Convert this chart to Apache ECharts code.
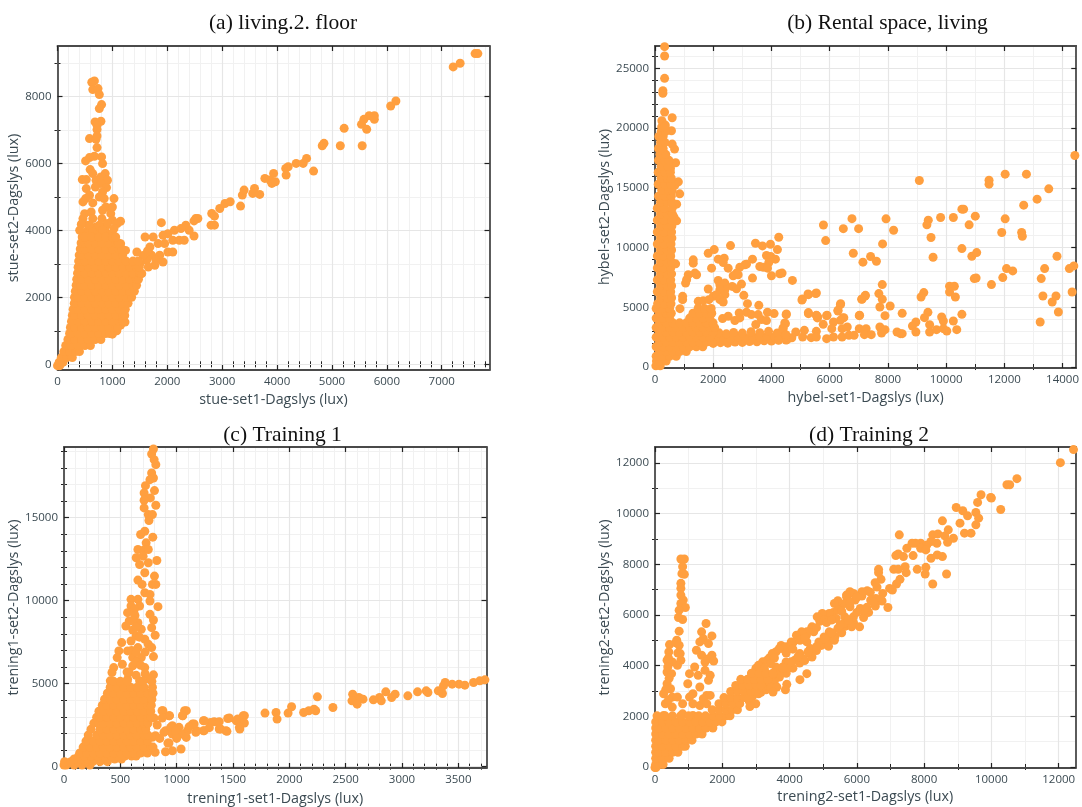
<!DOCTYPE html>
<html><head><meta charset="utf-8">
<script src="https://cdn.jsdelivr.net/npm/echarts@6/dist/echarts.min.js"></script>
<style>html,body{margin:0;background:#fff}#c{width:1082px;height:807px}</style></head>
<body><div id="c"></div>
<script>
// ---------- Panel (a) living.2. floor ----------
const livingTitle = "(a) living.2. floor";
const livingXName = "stue-set1-Dagslys (lux)";
const livingYName = "stue-set2-Dagslys (lux)";
const livingXMajor = [0,1000,2000,3000,4000,5000,6000,7000];
const livingXMinor = [200,400,600,800,1200,1400,1600,1800,2200,2400,2600,2800,3200,3400,3600,3800,4200,4400,4600,4800,5200,5400,5600,5800,6200,6400,6600,6800,7200,7400,7600,7800];
const livingYMajor = [0,2000,4000,6000,8000];
const livingYMinor = [1000,3000,5000,7000,9000];
// dense mass, read row by row: [y, x, x, ...]
const livingRows = [
[-40,0,40],[60,30,100],[200,70,170,270],[380,115,220,330,400],[560,150,250,375,500,600],
[740,190,312,437,562,687,790],[920,220,250,375,500,625,750,875,950],[1100,235,312,437,562,687,812,937,1062,1095],
[1280,255,375,500,625,750,875,1000,1125,1200],[1460,270,312,437,562,687,812,937,1062,1187,1225],
[1640,285,375,500,625,750,875,1000,1125,1235],[1820,305,437,562,687,812,937,1062,1187,1285],
[2000,310,375,500,625,750,875,1000,1125,1250,1350],[2180,325,437,562,687,812,937,1062,1187,1312,1400],
[2360,340,420,500,625,750,875,1000,1125,1250,1375,1440],[2540,350,437,562,687,812,937,1062,1187,1312,1437,1475],
[2720,365,430,500,625,750,875,1000,1125,1250,1375,1500,1525],[2900,375,437,562,687,812,937,1062,1187,1312,1437,1490],
[3080,385,445,500,625,750,875,1000,1125,1250,1375,1470],[3260,395,437,562,687,812,937,1062,1187],
[3440,415,500,625,750,875,1000,1125,1170],[3620,430,500,562,687,812,937,1062,1110],[3800,450,500,625,750,875,1000,1060]
];
const livingPoints = [
[520,3950],[700,3950],[880,3950],[1000,3900],[560,4150],[700,4100],[880,4120],[1150,3600],[1240,3400],[1150,1170],[1230,1260],[1080,1000],[1000,900],
[672,8458],[625,8418],[643,8199],[738,8229],[762,8050],[803,7751],[762,7632],[684,7234],[791,7254],[720,7134],[720,7005],[583,6736],[702,6716],[720,6816],[720,6468],[803,6189],[672,6209],[583,6169],[512,6070],[821,5990],[595,5811],[643,5691],[869,5691],[452,5512],[524,5512],[791,5592],[910,5492],[702,5492],[791,5393],[893,5274],[690,5293],[524,5244],[821,5144],[583,5045],[512,4945],[464,4846],[1029,4945],[762,4995],[851,4945],[643,4816],[881,4696],[1000,4696],[494,4497],[613,4547],[821,4597],[970,4497],[464,4348],[643,4348],[809,4348],[1000,4298],[434,4179],[1148,4269],[1089,4199],[583,4149],[762,4149],[910,4199],[405,4000],[643,3950],[821,4000],[1029,4050],
[1446,3353],[1624,3104],[1773,2955],[1922,3055],[2011,3353],[2100,3353],[1684,3502],[1595,3801],[1743,3801],[1833,3602],[1952,3602],[2011,3900],[2130,4000],[1922,3850],[2100,3701],[2219,3701],[2309,3701],[2487,3831],[2338,4149],[2398,4000],[2249,4050],[2517,4348],[2487,4279],[1892,4228],[1654,2905],[1535,2706],[1714,3254],[1862,3254],[1560,3250],[1500,3000],[1640,3380],[1790,3120],
[2557,4353],[2810,4502],[2860,4422],[2797,4153],[2860,4153],[2956,4651],[3051,4801],[3146,4851],[3335,4721],[3367,5050],[3399,5199],[3557,5100],[3589,5249],[3684,5070],[3778,5548],[3873,5498],[3937,5697],[3905,5398],[3968,5448],[4158,5847],[4203,5896],[4165,5647],[4348,5996],[4475,5996],[4538,6145],[4665,5767],[4823,6524],[4854,6594],[5152,6524],[5222,7042],[5551,6524],[5538,7161],[5582,7311],[5633,7012],[5677,7420],[5772,7420],[5772,7311],[6070,7709],[6165,7859],[7209,8875],[7335,8984],[7608,9273],[7658,9273]
];

// ---------- Panel (b) Rental space, living ----------
const rentalTitle = "(b) Rental space, living";
const rentalXName = "hybel-set1-Dagslys (lux)";
const rentalYName = "hybel-set2-Dagslys (lux)";
const rentalXMajor = [0,2000,4000,6000,8000,10000,12000,14000];
const rentalXMinor = [1000,3000,5000,7000,9000,11000,13000];
const rentalYMajor = [0,5000,10000,15000,20000,25000];
const rentalYMinor = [1000,2000,3000,4000,6000,7000,8000,9000,11000,12000,13000,14000,16000,17000,18000,19000,21000,22000,23000,24000,26000];
const rentalRows = [
[100,30,180],[500,50,155,385],[900,40,270,500,730],[1300,155,385,615,845,1075],
[1700,40,270,500,730,960,1190,1420,1640],[2100,155,385,615,845,1075,1305,1535,1765,1950],
[2500,40,270,500,730,960,1190,1420,1650,1880],[2900,155,385,615,845,1075,1305,1535,1765,1995],
[3300,40,270,500,730,960,1190,1420,1650,1880,2050],[3700,155,385,615,845,1075,1305,1535,1765,1995],
[4100,40,270,500,1190,1420,1650,1880],[4500,155,385,560,1305,1535,1765,1950],[4900,40,270,500,1480,1700,1930],
[5300,90,320,550],[5800,190,420,570],[6300,80,310,540],[6800,190,420,570],[7300,80,310,540],[7800,190,420,570],[8300,80,310,540],[8800,190,420,570],[9300,80,310,540],[9800,190,420,570],[10300,80,310,550],[10800,190,420,580],[11300,80,310,570],[11800,190,420,580],[12300,80,310,570],[12800,190,420,600],[13300,80,310,590],[13800,190,420,580],
[14300,120,350,560],[14800,230,470,590],[15300,110,340,540],[15800,210,420,560],[16300,110,340,530],[16800,210,440],[17300,120,320,480],[17800,170,370],[18300,120,280],[18800,190,340],[19300,130,280],[19700,210,360],[20100,230,340]
];
const rentalPoints = [
[2000,1980],[2250,2040],[2500,2000],[2750,2090],[3000,2060],[3250,2130],[3500,2110],[3750,2200],[4000,2180],[4250,2290],[4500,2260],[2100,2430],[2350,2500],[2600,2410],[2850,2520],[3100,2460],[3350,2560],[3600,2480],[3850,2590],[4100,2520],[4350,2640],[2200,2860],[2450,2780],[2700,2900],[3000,2840],[3300,2950],[3600,2880],[3900,2990],[4200,2850],
[330,26034],[330,26816],[330,24162],[271,23128],[271,22905],[330,21341],[236,20615],[590,20866],[354,20251],[566,19777],[590,18659],[672,18240],[708,17095],[531,16620],[590,17039],[802,15503],[684,15223],[849,14497],[743,13631],[743,12235],[649,12570],
[709,8639],[1314,8972],[1314,8694],[1143,7722],[1051,7028],[1086,7306],[1371,7861],[1429,7722],[949,5917],[949,5639],[857,4889],
[1829,9528],[2034,9833],[2594,10167],[3451,10361],[3691,10139],[3966,10278],[4251,10861],[4206,9833],[2171,9028],[2377,9111],[2343,8750],[1943,8278],[2514,8278],[3349,9028],[3829,9333],[3977,9250],[4137,9028],[3909,8750],[3600,8417],[3714,8361],[3863,8278],[3086,8556],[2914,8361],[3143,8611],[2800,7861],[2686,7639],[2857,7722],[3349,7444],[4000,7639],[4286,7806],[4366,7861],[4720,7250],
[1829,6528],[2171,7250],[2229,6889],[2400,7028],[2651,6750],[2971,6944],[2800,6556],[2400,6472],[2229,6472],[2000,5917],[2114,6056],[2400,6056],[2229,5639],[2343,5444],[3051,6000],[1486,5500],[1657,5556],[1851,5639],[3177,5306],[3566,5167],
[2320,4056],[2514,4250],[2743,3889],[2891,4528],[2914,4111],[3143,4583],[3314,4389],[3543,4389],[3657,3972],[3829,3889],[3863,4583],[4091,4472],[4514,4444],[4457,3694],[4400,3278],[3463,3556],
[5063,5694],[5257,6111],[5543,6194],[5863,10583],[5786,11889],[6469,11583],[6766,12417],[6994,11583],[6811,9528],[7143,8778],[7406,9250],[5269,4556],[5554,4306],[5577,4111],[5909,4333],[6377,5306],[6286,4750],[7029,4333],[7114,5694],[7229,6000],[6457,4111],
[9080,15615],[11474,15642],[11474,15307],[12028,16145],[12759,16145],[13526,14916],[13125,14050],[12665,13547],[10542,13212],[10601,13212],[9811,12514],[10248,12514],[9387,12291],[9340,11899],[11002,12626],[10790,11899],[12028,12402],[7936,12402],[8196,11453],[7818,10307],[9481,10838],[9552,9190],[7606,8855],[11910,11257],[12594,11257],[12618,10950],[10542,9916],[10884,9274],[11050,9581],[13809,9274],[12075,8240],[12288,8045],[11946,7486],[13384,8240],[13267,7402],[14233,8240],[14387,8464],[14328,6285],[14422,17709],[10967,7402],[11030,7450],[11557,6899],[10118,6760],[10283,6760],[10118,6285],[10318,5866],[10542,4413],[10248,3855],[10366,3128],[9233,6229],[9139,5866],[9375,4581],[9257,4134],[8962,3771],[8844,3436],[8962,2933],[9434,3547],[9434,2933],[9847,4190],[9906,3855],[9670,3128],[9906,3212],[10024,3017],[7807,6899],[7689,6145],[7807,5670],[7724,5028],[8078,5112],[7901,4302],[8491,4497],[7217,5950],[7099,5670],[7016,4302],[6368,5223],[6285,4693],[6486,4134],[6368,3911],[13325,5950],[13774,5950],[13644,5447],[13856,4609],[13231,3771],
[4835,2933],[5130,3073],[5071,2514],[5366,2458],[5542,2989],[5542,2514],[5896,2374],[6132,2514],[5778,3575],[6132,3771],[6073,3212],[6427,3212],[6427,2514],[6604,3352],[6663,2654],[6840,2654],[7016,3212],[7252,3212],[7193,2709],[7429,2709],[7724,3352],[7901,3128],[7783,2849],[8314,2933],[8432,2793],[8491,2793],[5590,4190],[5542,4330],[5896,4302],[5271,4469],[5047,5615],[5271,6061],[5519,6145],[4505,4385],[4481,3631],[4399,3212],[4540,2290],[4245,2235],[4700,2450],[4500,2700]
];

// ---------- Panel (c) Training 1 ----------
const training1Title = "(c) Training 1";
const training1XName = "trening1-set1-Dagslys (lux)";
const training1YName = "trening1-set2-Dagslys (lux)";
const training1XMajor = [0,500,1000,1500,2000,2500,3000,3500];
const training1XMinor = [100,200,300,400,600,700,800,900,1100,1200,1300,1400,1600,1700,1800,1900,2100,2200,2300,2400,2600,2700,2800,2900,3100,3200,3300,3400,3600,3700];
const training1YMajor = [0,5000,10000,15000];
const training1YMinor = [1000,2000,3000,4000,6000,7000,8000,9000,11000,12000,13000,14000,16000,17000,18000,19000];
const training1Rows = [
[100,0,20,90,160,230],[300,5,60,125,190,255,320,385],[460,90,150,210,270,330,390,450,510],[640,130,180,240,300,360,420,480,540,600,640],
[820,140,200,260,320,380,440,500,560,620,680,740],[1180,170,230,290,350,410,470,530,590,650,710,770,790],
[1540,195,260,320,380,440,500,560,620,680,740],[1900,215,290,350,410,470,530,590,650,710,745],
[2260,240,320,380,440,500,560,620,680,725],[2620,265,310,350,410,470,530,590,650,710,745],
[2980,290,320,380,440,500,560,620,680,740,770],[3340,310,350,410,470,530,590,650,710,770],
[3700,340,380,440,500,560,620,680,740,775],[4060,360,410,470,530,590,650,710,780],
[4420,385,440,500,560,620,680,740,790],[4780,410,470,530,590,650,710,785],[5140,440,500,560,700,780]
];
const training1Points = [
[778,18826],[794,19127],[800,18486],[815,18185],[778,17685],[794,17385],[763,17285],[723,16923],[803,16623],[711,16483],[766,16183],[711,16043],[815,15742],[711,15582],[748,15181],[785,15181],[754,14821],[717,14180],[680,13980],[788,13820],[729,13479],[656,13079],[717,13079],[748,13079],[641,12578],[702,12678],[824,12417],[671,12177],[748,12277],[717,11676],[803,11476],[656,11236],[693,10975],[785,10975],[815,10975],[717,10475],[763,10375],[595,10075],[656,10075],[763,9975],[595,9674],[834,9634],[671,9674],[564,9273],[625,9473],[763,9173],[579,8772],[549,8472],[794,8832],[778,8372],[656,8672],[610,8232],[686,8272],[809,7911],[641,7871],[512,7471],[595,7571],[717,7671],[748,7371],[487,6970],[564,6970],[656,7170],[778,7170],[794,6629],[472,6569],[610,6569],[686,6569],[441,5968],[518,6169],[610,6069],[717,5968],[426,5668],[579,5668],[794,5528],[411,5167],[564,5267],[671,5167],[763,5267],[630,9100],[610,8800],[640,8400],[670,7800],[600,7000],[640,6900],[720,6900],[640,6300],[680,6100],[560,5700],[640,5500],[720,5600],
[3736,5227],[3690,5167],[3635,5067],[3558,4907],[3506,4967],[3445,4967],[3383,5067],[3368,4867],[3359,4406],[3322,4566],[3215,4566],[3230,4466],[3138,4506],[3052,4266],[2939,4366],[2908,4166],[2856,4506],[2801,4166],[2816,3966],[2746,4026],[2654,4066],[2617,4166],[2562,4366],[2556,3966],[2602,3765],[2387,3565],[2249,4206],[2234,3365],[2173,3365],[2127,3265],[2219,3465],[2020,3605],[1989,3225],[1882,3265],[1891,2864],[1784,3225],
[1591,3064],[1575,2764],[1560,2263],[1529,2764],[1453,2904],[1437,2163],[1391,2263],[1361,2664],[1299,2664],[1238,2764],[1238,2163],[1177,2163],[1140,2564],[1070,3365],[1054,3064],[932,3064],[870,3365],[962,2464],[1024,1963],[901,2163],[1085,1762],[922,1422],[1039,1061],[962,961],[901,901],[809,861],
[878,3373],[1086,3373],[937,3072],[872,2932],[1051,3072],[798,2932],[738,2570],[827,2510],[946,2369],[1021,2369],[1155,2570],[1244,2771],[1333,2711],[1378,2711],[1467,2932],[1542,2871],[1601,3072],[1601,2630],[1557,2369],[1378,2269],[1446,2128],[1244,2168],[1170,2068],[1095,2168],[1036,1968],[961,1968],[887,2068],[812,1867],[932,1426],[783,1767],[723,2068],[850,1700],[990,2150],[1110,2400],[1290,2350],[1000,1700]
];

// ---------- Panel (d) Training 2 ----------
const training2Title = "(d) Training 2";
const training2XName = "trening2-set1-Dagslys (lux)";
const training2YName = "trening2-set2-Dagslys (lux)";
const training2XMajor = [0,2000,4000,6000,8000,10000,12000];
const training2XMinor = [1000,3000,5000,7000,9000,11000];
const training2YMajor = [0,2000,4000,6000,8000,10000,12000];
const training2YMinor = [1000,3000,5000,7000,9000,11000];
const training2Rows = [
[-20,0,30],[100,20,130,240],[340,20,220,420],[580,20,120,320,520,680],[820,20,220,420,620,820,900],
[1060,20,120,320,520,720,920,1100],[1300,20,220,420,620,820,1020,1220,1400],
[1540,20,120,320,520,720,920,1120,1320,1520,1720],[1780,20,220,420,620,820,1020,1220,1420,1620,1820,1990],
[2020,60,300,520,760,1000,1300,1500,1720,1920,2120,2230],[2260,1700,1900,2100,2300,2450],
[2500,1900,2100,2300,2520],[2740,2050,2250,2450,2650,2800],[2980,2250,2450,2650,2850,3000],
[3220,2400,2600,2800,3000,3150],[3460,2550,2750,2950,3150,3350],[3700,2870,3100,3300,3500]
];
const training2Points = [
[3000,3900],[3200,4150],[3400,4300],[3600,4550],[3750,4800],[3900,4750],[4100,4900],[4300,5100],[4500,5200],[4650,5450],[4900,5750],[5100,5950],[5300,6100],[5500,6300],[5700,6700],[5900,6850],[6150,6750],[6400,6900],[6600,7100],
[3300,3300],[3500,3500],[3700,3550],[3900,3700],[4100,3900],[4300,4100],[4450,4200],[4600,4500],[4800,4600],[4950,4800],[5150,5000],[5350,5150],[5550,5300],[5650,5550],[5900,5700],[6200,5900],[6350,6100],[6550,6350],[6750,6550],
[2700,3400],[2900,3500],[3100,3500],[3300,3700],[3150,3300],[3350,3300],[3550,3400],[2800,2600],[2900,2800],[3000,3100],[3150,2950],[3300,3050],[3450,3150],
[9692,10746],[9590,10442],[9979,10640],[10000,10614],[8954,10244],[9149,10112],[9538,10046],[9292,9914],[9067,9624],[9621,9822],[9538,9558],[8544,9716],[8718,9360],[9200,9228],[9395,9228],[8872,9030],[8697,8871],[7262,9162],[8256,9162],[8410,9201],[8615,9122],[8379,8832],[8205,8898],[8082,8766],[7897,8832],[7744,8832],[7641,8832],[7487,8634],[7897,8634],[8051,8568],[8205,8238],[8390,8370],[8544,8304],[7159,8344],[7231,8409],[7385,8304],[7672,8344],[7436,7908],[7097,7802],[7231,7802],[7467,7670],[7795,7802],[8051,7881],[8031,7617],[8667,7617],[8256,7221],[7282,7406],[7179,7221],[6646,7802],[6646,7670],[6718,7406],[6544,7274],[6974,7049],[7056,6983],[6769,6851],[6718,6587],[6923,6297],[6564,6653],
[6308,6957],[6154,6917],[5949,6785],[5795,6917],[5692,6785],[5641,6455],[6103,6257],[6205,6191],[6410,6587],[5949,6587],[5795,6323],[5436,6561],[5333,6455],[5436,6191],[5897,5927],[5641,5927],[5385,5861],[5179,6059],[4974,6059],[4821,5927],[5026,5795],[5846,5531],[6082,5531],[5610,5663],[5436,5465],[5179,5333],[5333,5003],[5159,4766],[4872,4937],[4667,5531],[4718,5333],[4513,5333],[4359,5333],[4205,5201],[4051,4937],[3795,4673],[3692,4673],[3487,4475],[3333,4211],[4513,4937],[4308,4475],[4667,4343],[4410,4277],[4154,4211],[3897,4145],[3795,3947],[3590,3947],[4513,3683],[4308,3446],[3918,3261],[3877,3050],[3621,3155],[3508,2957],[3077,4013],[3231,3683],[2872,3683],[2974,3353],[2769,3353],[3077,2891],[2995,2495],[2821,2389],[3385,3551],[3692,3683],[3949,3881],[3436,4079],[3179,3155],[4308,5003],[4615,4673],[5026,5135],[3250,3900],[3550,4300],[3900,4500],[4100,4650],[4450,5100],[4800,5500],[5100,5700],[5250,5800],[5550,6150],[5800,6500],[6000,6700],[3500,3650],[3800,3900],[4050,4150],[4250,4350],[4550,4550],[4800,4750],[5050,5050],[5250,5300],[5500,5600],[5750,5800],[6000,6100],[6300,6300],[6500,6500],
[872,8211],[769,8211],[821,7908],[872,7604],[800,7630],[769,7248],[769,7050],[769,6785],[841,6587],[769,6455],[903,6297],[718,6191],[821,5822],[697,5901],[718,5360],[431,4832],[646,5003],[718,4805],[410,4541],[749,4475],[359,4211],[769,4211],[667,4013],[513,4145],[359,3749],[492,3683],[359,3287],[256,2891],[462,3089],[308,2495],[513,2759],[667,2759],[513,2363],[821,2495],[1026,2759],[1128,2891],[256,2033],[821,2099],[1128,2033],[400,4300],[380,3950],[420,3500],[320,3050],[400,2650],[680,4500],[620,4900],
[1518,5663],[1385,5333],[1692,5175],[1436,5069],[1333,4937],[1590,4871],[1231,4607],[1385,4409],[1692,4409],[1590,4277],[1744,4185],[1487,4145],[1179,3947],[1282,3617],[1026,3683],[1487,3815],[1641,3617],[974,3287],[1333,3155],[1590,3419],[1538,2825],[1641,2825],[1333,2429],[1436,2693],[1538,2495],[1128,2495],
[10462,11142],[10544,11142],[10759,11380],[10277,10165],[12051,12013],[12441,12528]
];

const panels = [
 {title:livingTitle,tx:278,ty:7,xName:livingXName,yName:livingYName,xMajor:livingXMajor,xMinor:livingXMinor,yMajor:livingYMajor,yMinor:livingYMinor,rows:livingRows,points:livingPoints,
  left:57.5,right:489.5,top:46,bottom:370,xMax:7870,yMin:-170,yMax:9500,yGap:26,xGap:23},
 {title:rentalTitle,tx:882.5,ty:7,xName:rentalXName,yName:rentalYName,xMajor:rentalXMajor,xMinor:rentalXMinor,yMajor:rentalYMajor,yMinor:rentalYMinor,rows:rentalRows,points:rentalPoints,
  left:655,right:1078.5,top:46,bottom:368,xMax:14470,yMin:-80,yMax:26870,yGap:40,xGap:23},
 {title:training1Title,tx:277.5,ty:419,xName:training1XName,yName:training1YName,xMajor:training1XMajor,xMinor:training1XMinor,yMajor:training1YMajor,yMinor:training1YMinor,rows:training1Rows,points:training1Points,
  left:64,right:486.5,top:447,bottom:769,xMax:3750,yMin:-80,yMax:19250,yGap:40,xGap:24},
 {title:training2Title,tx:864,ty:419,xName:training2XName,yName:training2YName,xMajor:training2XMajor,xMinor:training2XMinor,yMajor:training2YMajor,yMinor:training2YMinor,rows:training2Rows,points:training2Points,
  left:655,right:1075.5,top:447,bottom:768,xMax:12500,yMin:-40,yMax:12630,yGap:40,xGap:22}
];

const W = 1082, H = 807, ink = '#3b4a52', frame = '#4a4a4a';
const grid=[], xAxis=[], yAxis=[], series=[], title=[];

function axisSet(list, base, major, minor, sides, name, gap){
  const n0 = list.length;
  const tick = (vals, len, w) => ({show:true, inside:true, length:len, customValues:vals, lineStyle:{color:'#222', width:w}});
  list.push({...base, position:sides[0], name, nameLocation:'middle', nameGap:gap,
    nameTextStyle:{fontFamily:'Open Sans', fontSize:14.3, color:ink},
    axisLine:{show:true,onZero:false,lineStyle:{color:frame,width:1.8}},
    axisTick:tick(major,5,1.2),
    axisLabel:{show:true,customValues:major,margin:6,hideOverlap:false,showMinLabel:true,showMaxLabel:true,fontFamily:'Open Sans',fontSize:11.5,color:ink,formatter:v=>String(v)},
    splitLine:{show:true,lineStyle:{color:'#e6e6e6',width:1.2}}, z:3});
  list.push({...base, position:sides[1],
    axisLine:{show:true,onZero:false,lineStyle:{color:frame,width:1.8}},
    axisTick:tick(major,5,1.2), axisLabel:{show:false}, splitLine:{show:false}, z:3});
  list.push({...base, position:sides[0],
    axisLine:{show:false}, axisTick:tick(minor,3,1),
    axisLabel:{show:false}, splitLine:{show:true,lineStyle:{color:'#f1f1f1',width:1}}, z:2});
  list.push({...base, position:sides[1],
    axisLine:{show:false}, axisTick:tick(minor,3,1),
    axisLabel:{show:false}, splitLine:{show:false}, z:2});
  return n0;
}

panels.forEach((p,i)=>{
  title.push({text:p.title,left:p.tx,top:p.ty,textAlign:'center',
    textStyle:{fontFamily:'Liberation Serif',fontSize:21.5,fontWeight:'normal',color:'#111'}});
  grid.push({left:p.left,top:p.top,width:p.right-p.left,height:p.bottom-p.top,containLabel:false,show:false});
  const xi = axisSet(xAxis,{type:'value',gridIndex:i,min:0,max:p.xMax},p.xMajor,p.xMinor,['bottom','top'],p.xName,p.xGap);
  const yi = axisSet(yAxis,{type:'value',gridIndex:i,min:p.yMin,max:p.yMax},p.yMajor,p.yMinor,['left','right'],p.yName,p.yGap);
  const data = p.points.slice();
  p.rows.forEach(r=>{ r.slice(1).forEach(x=>data.push([x,r[0]])); });
  series.push({type:'scatter',xAxisIndex:xi,yAxisIndex:yi,data,symbol:'circle',symbolSize:9,clip:true,silent:true,
    itemStyle:{color:'#FF9F3F',opacity:1},z:5,animation:false});
});

const chart = echarts.init(document.getElementById('c'),null,{renderer:'canvas',width:W,height:H});
chart.setOption({backgroundColor:'#fff',animation:false,title,grid,xAxis,yAxis,series});
</script></body></html>
